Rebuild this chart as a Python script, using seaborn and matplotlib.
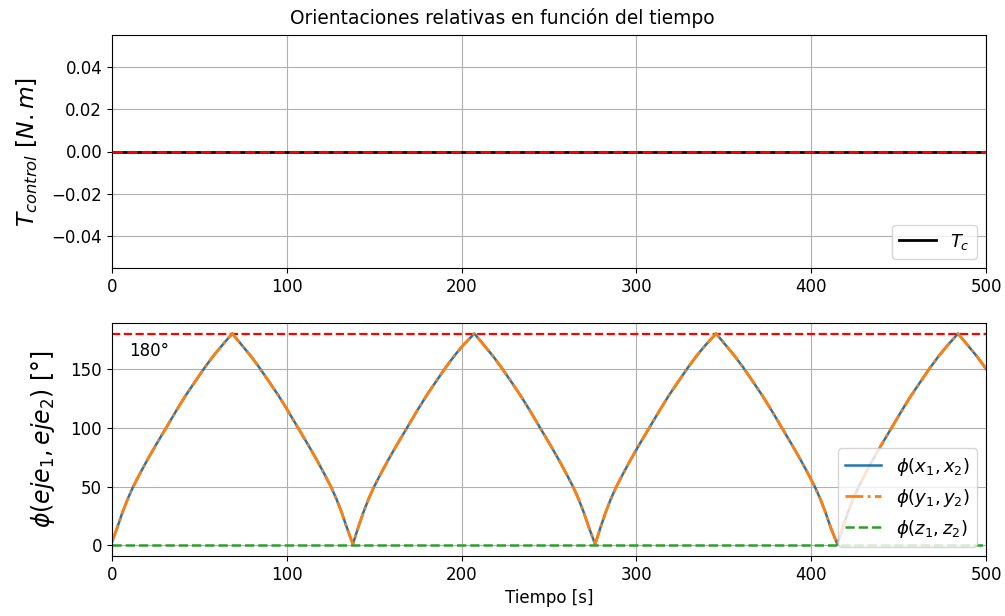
import numpy as np
import pandas as pd
import matplotlib
matplotlib.use("Agg")
import matplotlib.pyplot as plt
import seaborn as sns

# ---- data ----
tiempo = [
    0, 3, 6, 9, 12, 16, 20, 25, 31, 37, 42, 47, 53, 58, 63, 68.8,
    74.4, 79.4, 84.4, 90.4, 95.4, 100.4, 106.4, 112.4, 117.4, 121.4, 125.4, 128.4, 131.4, 134.4, 137.8,
    140.8, 143.8, 146.8, 149.8, 153.8, 157.8, 162.8, 168.8, 174.8, 179.8, 184.8, 190.8, 195.8, 200.8, 207.3,
    212.9, 217.9, 222.9, 228.9, 233.9, 238.9, 244.9, 250.9, 255.9, 259.9, 263.9, 266.9, 269.9, 272.9, 276.4,
    279.4, 282.4, 285.4, 288.4, 292.4, 296.4, 301.4, 307.4, 313.4, 318.4, 323.4, 329.4, 334.4, 339.4, 345.6,
    351.2, 356.2, 361.2, 367.2, 372.2, 377.2, 383.2, 389.2, 394.2, 398.2, 402.2, 405.2, 408.2, 411.2, 415.0,
    418, 421, 424, 427, 431, 435, 440, 446, 452, 457, 462, 468, 473, 478, 484,
    489.6, 494.6, 499.6, 500,
]
phi_x = [
    3, 15, 28, 39.5, 49.5, 61, 72, 85, 100, 115, 127, 138, 151, 161, 170, 180,
    170, 161, 151, 138, 127, 115, 100, 85, 72, 61, 49.5, 39.5, 28, 15, 1,
    15, 28, 39.5, 49.5, 61, 72, 85, 100, 115, 127, 138, 151, 161, 170, 180,
    170, 161, 151, 138, 127, 115, 100, 85, 72, 61, 49.5, 39.5, 28, 15, 1,
    15, 28, 39.5, 49.5, 61, 72, 85, 100, 115, 127, 138, 151, 161, 170, 180,
    170, 161, 151, 138, 127, 115, 100, 85, 72, 61, 49.5, 39.5, 28, 15, 1,
    15, 28, 39.5, 49.5, 61, 72, 85, 100, 115, 127, 138, 151, 161, 170, 180,
    170, 161, 151, 150,
]
phi_y = list(phi_x)
phi_z = [0.0] * len(tiempo)
torque = [0.0] * len(tiempo)

df = pd.DataFrame({"t": tiempo, "x": phi_x, "y": phi_y, "z": phi_z, "tc": torque})

plt.rcParams["font.family"] = ["DejaVu Sans"]
plt.rcParams["font.size"] = 12

fig, (ax1, ax2) = plt.subplots(2, 1, figsize=(10.05, 6.16), dpi=100)
ax1.set_position([0.1114, 1 - 268 / 616, 0.9811 - 0.1114, (268 - 35) / 616])
ax2.set_position([0.1114, 1 - 556 / 616, 0.9811 - 0.1114, (556 - 323) / 616])

# top panel
sns.lineplot(data=df, x="t", y="tc", ax=ax1, color="black", linewidth=2, label=r"$T_c$")
ax1.axhline(0, color="red", linestyle="--", linewidth=2, zorder=5)
ax1.set_xlim(0, 500)
ax1.set_ylim(-0.055, 0.055)
ax1.set_yticks([-0.04, -0.02, 0.0, 0.02, 0.04])
ax1.set_xlabel("")
ax1.set_ylabel(r"$T_{control}\ [N.m]$", fontsize=16.8, labelpad=8)
ax1.grid(True, color="#b0b0b0", linewidth=0.8)
ax1.legend(loc="lower right", fontsize=13)

fig.suptitle("Orientaciones relativas en función del tiempo", fontsize=13.4,
             y=0.971, va="center")

# bottom panel
ax2.axhline(180, color="red", linestyle="--", linewidth=1.6)
sns.lineplot(data=df, x="t", y="x", ax=ax2, color="#1f77b4", linewidth=1.8,
             label=r"$\phi(x_1,x_2)$")
sns.lineplot(data=df, x="t", y="y", ax=ax2, color="#ff7f0e", linewidth=2,
             linestyle="-.", label=r"$\phi(y_1,y_2)$")
sns.lineplot(data=df, x="t", y="z", ax=ax2, color="#2ca02c", linewidth=1.8,
             linestyle="--", label=r"$\phi(z_1,z_2)$")
ax2.text(10, 165, "180°", va="center", ha="left", fontsize=12)
ax2.set_xlim(0, 500)
ax2.set_ylim(-9, 189)
ax2.set_yticks([0, 50, 100, 150])
ax2.set_xlabel("Tiempo [s]")
ax2.set_ylabel(r"$\phi(eje_1,eje_2)$ [°]", fontsize=17, labelpad=10)
ax2.grid(True, color="#b0b0b0", linewidth=0.8)
ax2.legend(loc="lower right", fontsize=13)

fig.savefig("out.png", dpi=100)
